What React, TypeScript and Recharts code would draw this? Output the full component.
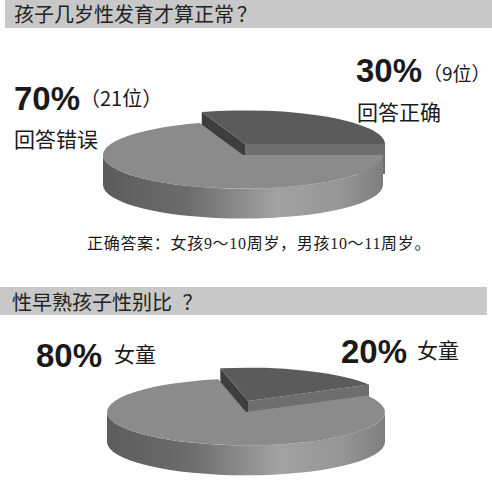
import React from "react";
import { PieChart, Pie, Cell } from "recharts";

const ageNames = ["回答正确", "回答错误"];
const ageValues = [30, 70];
const ageCounts = ["9位", "21位"];
const sexNames = ["女童", "女童"];
const sexValues = [20, 80];

const TOP = ["#5b5b5b", "#8b8b8b"];
const CUT = ["#3e3e3e", "#6f6f6f"];
const K = 0.24;
const DEPTH = 30;
const LIFT = { dx: 2, dy: -11 };

const CJK = '"Noto Sans CJK SC", "Noto Sans", sans-serif';
const NUM = '"Liberation Sans", Arial, sans-serif';

function pt(cx: number, cy: number, rx: number, ry: number, deg: number) {
  const r = (deg * Math.PI) / 180;
  return [cx + rx * Math.cos(r), cy - ry * Math.sin(r)];
}

function Slice3D(props: any) {
  const { startAngle, endAngle, outerRadius, index } = props;
  const lifted = index === 0;
  const cx = props.cx + (lifted ? LIFT.dx : 0);
  const cy = props.cy + (lifted ? LIFT.dy : 0);
  const rx = outerRadius;
  const ry = outerRadius * K;
  const a1 = Math.min(startAngle, endAngle);
  const a2 = Math.max(startAngle, endAngle);
  const gid = `wall-${Math.round(props.cx)}-${Math.round(props.cy)}-${index}`;

  // front-facing part of the outer wall
  const walls: string[] = [];
  for (const k of [-2, -1, 0, 1]) {
    const s = Math.max(a1, 180 + k * 360);
    const e = Math.min(a2, 360 + k * 360);
    if (e - s <= 0.01) continue;
    const [x1, y1] = pt(cx, cy, rx, ry, s);
    const [x2, y2] = pt(cx, cy, rx, ry, e);
    walls.push(
      `M${x1},${y1} A${rx},${ry} 0 0 0 ${x2},${y2} L${x2},${y2 + DEPTH} A${rx},${ry} 0 0 1 ${x1},${y1 + DEPTH} Z`
    );
  }

  const face = (a: number) => {
    const [x, y] = pt(cx, cy, rx, ry, a);
    return `M${cx},${cy} L${x},${y} L${x},${y + DEPTH} L${cx},${cy + DEPTH} Z`;
  };
  const c1 = Math.cos((a1 * Math.PI) / 180);
  const c2 = Math.cos((a2 * Math.PI) / 180);

  const [p1x, p1y] = pt(cx, cy, rx, ry, a1);
  const [p2x, p2y] = pt(cx, cy, rx, ry, a2);
  const large = a2 - a1 > 180 ? 1 : 0;
  const top = `M${cx},${cy} L${p1x},${p1y} A${rx},${ry} 0 ${large} 0 ${p2x},${p2y} Z`;

  return (
    <g>
      <defs>
        <linearGradient id={gid} gradientUnits="userSpaceOnUse" x1={cx - rx} y1={0} x2={cx + rx} y2={0}>
          <stop offset="0%" stopColor="#5c5c5c" />
          <stop offset="30%" stopColor="#6c6c6c" />
          <stop offset="62%" stopColor="#a2a2a2" />
          <stop offset="85%" stopColor="#959595" />
          <stop offset="100%" stopColor="#7e7e7e" />
        </linearGradient>
      </defs>
      {c2 < 0 && <path d={face(a2)} fill={CUT[index]} />}
      {c1 > 0 && <path d={face(a1)} fill={index === 0 ? "#6e6e6e" : CUT[index]} />}
      {walls.map((d, i) => (
        <path key={i} d={d} fill={`url(#${gid})`} />
      ))}
      <path d={top} fill={props.fill} />
    </g>
  );
}

function Pie3D({ names, values, cx, cy, r, start, height }: any) {
  const data = names.map((n: string, i: number) => ({ name: n, value: values[i] }));
  return (
    <PieChart width={492} height={height} margin={{ top: 0, right: 0, bottom: 0, left: 0 }}>
      <Pie
        data={data}
        dataKey="value"
        cx={cx}
        cy={cy}
        outerRadius={r}
        startAngle={start}
        endAngle={start - 360}
        stroke="none"
        isAnimationActive={false}
        shape={Slice3D}
        inactiveShape={Slice3D}
        activeShape={Slice3D}
      >
        {data.map((_: any, i: number) => (
          <Cell key={i} fill={TOP[i]} />
        ))}
      </Pie>
    </PieChart>
  );
}

const abs = (s: React.CSSProperties): React.CSSProperties =>
  ({ position: "absolute", whiteSpace: "nowrap", lineHeight: 1, textSpacingTrim: "space-all", ...s } as any);

export default function App() {
  return (
    <div style={{ position: "absolute", left: 0, top: 0, width: 492, height: 492, background: "#fff", overflow: "hidden", color: "#1a1a1a" }}>
      <div style={abs({ left: 5, top: 0, width: 487, height: 28, background: "#c8c8c8" })} />
      <div style={abs({ left: 0, top: 287, width: 487, height: 28, background: "#c8c8c8" })} />
      <div style={abs({ left: 0, top: 0 })}>
        <Pie3D names={ageNames} values={ageValues} cx={243} cy={155} r={140} start={108} height={250} />
      </div>
      <div style={abs({ left: 0, top: 250 })}>
        <Pie3D names={sexNames} values={sexValues} cx={246} cy={162} r={139} start={101.5} height={242} />
      </div>

      <span style={abs({ left: 14, top: 4, fontFamily: CJK, fontSize: 20, color: "#222" })}>
        孩子几岁性发育才算正常<span style={{ marginLeft: 3 }}>？</span>
      </span>
      <span style={abs({ left: 12, top: 292, fontFamily: CJK, fontSize: 20, color: "#222" })}>
        性早熟孩子性别比 <span style={{ marginLeft: 6 }}>？</span>
      </span>

      <span style={abs({ left: 14, top: 82, fontFamily: NUM, fontWeight: "bold", fontSize: 33 })}>{ageValues[1]}%</span>
      <span style={abs({ left: 80, top: 88, fontFamily: CJK, fontSize: 20 })}>（{ageCounts[1]}）</span>
      <span style={abs({ left: 14, top: 128, fontFamily: CJK, fontSize: 21 })}>{ageNames[1]}</span>

      <span style={abs({ left: 356, top: 54, fontFamily: NUM, fontWeight: "bold", fontSize: 33 })}>{ageValues[0]}%</span>
      <span style={abs({ left: 423, top: 63, fontFamily: CJK, fontSize: 19 })}>（{ageCounts[0]}）</span>
      <span style={abs({ left: 357, top: 101, fontFamily: CJK, fontSize: 21 })}>{ageNames[0]}</span>

      <span style={abs({ left: 87, top: 234, fontSize: 16, letterSpacing: 0.7, fontFamily: '"Liberation Serif", "Noto Sans CJK SC", serif' })}>
        <span style={{ fontFamily: CJK }}>正确答案：</span>女孩9～10周岁，男孩10～11周岁。
      </span>

      <span style={abs({ left: 36, top: 339, fontFamily: NUM, fontWeight: "bold", fontSize: 33 })}>{sexValues[1]}%</span>
      <span style={abs({ left: 114, top: 343, fontFamily: CJK, fontSize: 21 })}>{sexNames[1]}</span>
      <span style={abs({ left: 341, top: 335, fontFamily: NUM, fontWeight: "bold", fontSize: 33 })}>{sexValues[0]}%</span>
      <span style={abs({ left: 417, top: 339, fontFamily: CJK, fontSize: 21 })}>{sexNames[0]}</span>
    </div>
  );
}
